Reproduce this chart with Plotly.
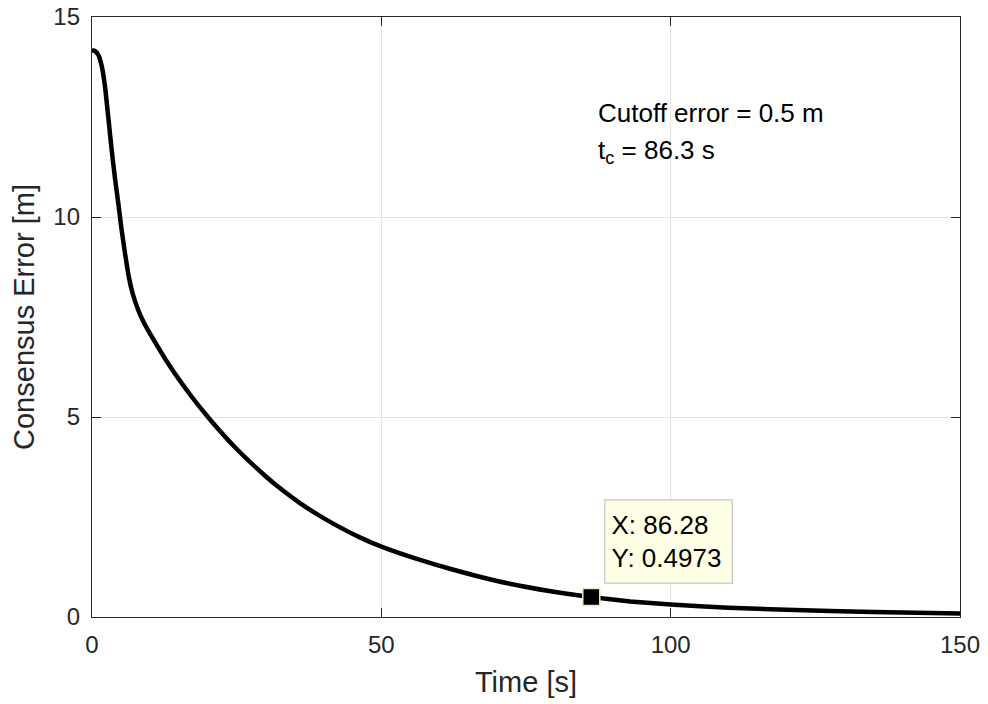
import plotly.graph_objects as go

# Data
time_s = [0, 0.5, 1.1, 1.7, 2.25, 2.8, 3.4, 4.0, 4.55, 5.1, 5.7, 6.3, 7.0, 8.0, 9.0, 10,
          13.5, 17, 20.5, 25, 30, 33, 36, 39, 42, 46, 50, 56, 62, 70, 79, 86.28, 93, 100,
          110, 120, 135, 150]
error_m = [14.17, 14.15, 14.05, 13.76, 13.26, 12.51, 11.68, 10.93, 10.34, 9.7, 9.1, 8.55,
           8.1, 7.67, 7.35, 7.09, 6.26, 5.55, 4.92, 4.2, 3.52, 3.16, 2.84, 2.56, 2.31, 2.01,
           1.76, 1.46, 1.2, 0.9, 0.65, 0.4973, 0.39, 0.31, 0.23, 0.18, 0.125, 0.085]
tip_x = [86.28]
tip_y = [0.4973]
x_ticks = [0, 50, 100, 150]
y_ticks = [0, 5, 10, 15]

FONT = "Liberation Sans, Arial, Helvetica, sans-serif"
AX = "#262626"

fig = go.Figure()
fig.add_trace(go.Scatter(x=time_s, y=error_m, mode="lines",
                         line=dict(color="black", width=4.5, shape="spline", smoothing=0.5),
                         hoverinfo="skip", showlegend=False))
fig.add_trace(go.Scatter(x=tip_x, y=tip_y, mode="markers",
                         marker=dict(symbol="square", size=17, color="black",
                                     line=dict(color="#ecebc0", width=1.5)),
                         showlegend=False))

axis_common = dict(showline=True, linecolor=AX, linewidth=1.3, mirror="ticks",
                   ticks="inside", ticklen=9, tickcolor=AX, tickwidth=1.3,
                   showgrid=True, gridcolor="#e3e3e3", gridwidth=1.2, zeroline=False,
                   automargin=False, ticklabelstandoff=6,
                   tickfont=dict(family=FONT, size=24, color=AX),
                   title_font=dict(family=FONT, size=29, color=AX))

fig.update_xaxes(range=[0, 150], tickvals=x_ticks, title_text="Time [s]",
                 title_standoff=14, **axis_common)
fig.update_yaxes(range=[0, 15], tickvals=y_ticks, title_text="Consensus Error [m]",
                 title_standoff=10, **axis_common)

fig.add_annotation(x=87.05, y=12.6, xref="x", yref="y", xanchor="left", yanchor="middle",
                   text="Cutoff error = 0.5 m", showarrow=False,
                   font=dict(family=FONT, size=26, color="black"))
fig.add_annotation(x=87.05, y=11.65, xref="x", yref="y", xanchor="left", yanchor="middle",
                   text="t<sub>c</sub> = 86.3 s", showarrow=False,
                   font=dict(family=FONT, size=26, color="black"))
fig.add_annotation(x=88.47, y=0.825, xref="x", yref="y", xanchor="left", yanchor="bottom",
                   text="X: 86.28<br>Y: 0.4973", showarrow=False, align="left",
                   width=114, height=70, valign="middle",
                   bgcolor="#ffffe6", bordercolor="#cfcfcf", borderwidth=1.5, borderpad=6,
                   font=dict(family=FONT, size=26, color="black"))

fig.update_layout(width=988, height=704, paper_bgcolor="white", plot_bgcolor="white",
                  margin=dict(l=92, r=28, t=17, b=87), font=dict(family=FONT),
                  showlegend=False)

fig.write_html("out.html", config={"displayModeBar": False},
               post_script="document.body.style.margin='0';document.body.style.padding='0';"
                           "document.body.style.overflow='hidden';")
